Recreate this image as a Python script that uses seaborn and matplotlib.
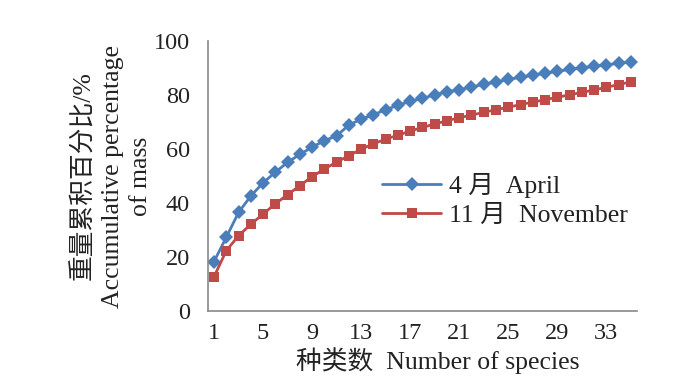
import numpy as np
import pandas as pd
import seaborn as sns
import matplotlib.pyplot as plt

species = list(range(1, 36))
april = [18.3, 27.3, 36.5, 42.6, 47.5, 51.4, 55.1, 58.0, 60.7, 63.1,
         64.9, 68.9, 71.1, 72.7, 74.6, 76.2, 77.7, 78.8, 80.1, 81.2,
         82.0, 83.0, 84.0, 84.9, 85.8, 86.6, 87.4, 88.1, 88.8, 89.5,
         90.1, 90.7, 91.2, 91.8, 92.3]
november = [12.7, 22.3, 27.9, 32.1, 35.9, 39.7, 43.1, 46.4, 49.8, 52.6,
            55.2, 57.5, 60.0, 61.9, 63.7, 65.1, 66.7, 68.0, 69.3, 70.5,
            71.6, 72.6, 73.6, 74.6, 75.5, 76.5, 77.4, 78.3, 79.2, 80.1,
            81.0, 81.9, 82.9, 83.9, 84.9]
series_names = ["4 月  April", "11 月  November"]
xticks = list(range(1, 35, 4))
yticks = [0, 20, 40, 60, 80, 100]

df = pd.DataFrame({
    "species": species * 2,
    "value": april + november,
    "month": [series_names[0]] * len(april) + [series_names[1]] * len(november),
})

sns.set_style("white")
fonts = ["Liberation Serif", "Noto Sans CJK SC", "DejaVu Sans"]
plt.rcParams["font.family"] = fonts
fs = 18.5

fig = plt.figure(figsize=(7, 3.81), dpi=100)
ax = fig.add_axes([0.297, 0.184, 0.613, 0.708])

ax = sns.lineplot(data=df, x="species", y="value", hue="month", style="month",
                  palette=["#4a7ebb", "#be4b48"], markers=["D", "s"], dashes=False,
                  markersize=7.5, markeredgewidth=0, linewidth=2, ax=ax)

ax.set_xlim(0.5, 35.5)
ax.set_ylim(0, 100)
ax.set_xticks(xticks)
ax.set_yticks(yticks)
ax.tick_params(length=0, labelsize=17.5, colors="#222222")
ax.tick_params(axis="y", pad=13)
ax.tick_params(axis="x", pad=9)
for s in ["top", "right"]:
    ax.spines[s].set_visible(False)
for s in ["left", "bottom"]:
    ax.spines[s].set_color("#888888")
    ax.spines[s].set_linewidth(1.2)

ax.set_xlabel("种类数  Number of species", fontsize=fs, color="#222222")
ax.xaxis.set_label_coords(0.535, -0.135)
ax.set_ylabel("重量累积百分比/%\nAccumulative percentage\nof mass", fontsize=fs,
              color="#222222", linespacing=1.4, labelpad=1)

ax.legend(loc="center left", bbox_to_anchor=(0.513, 0.475), bbox_transform=fig.transFigure,
          frameon=False, fontsize=fs, handlelength=2.3, handletextpad=0.3,
          labelspacing=0.2, labelcolor="#222222")

fig.savefig("out.png", dpi=100)
